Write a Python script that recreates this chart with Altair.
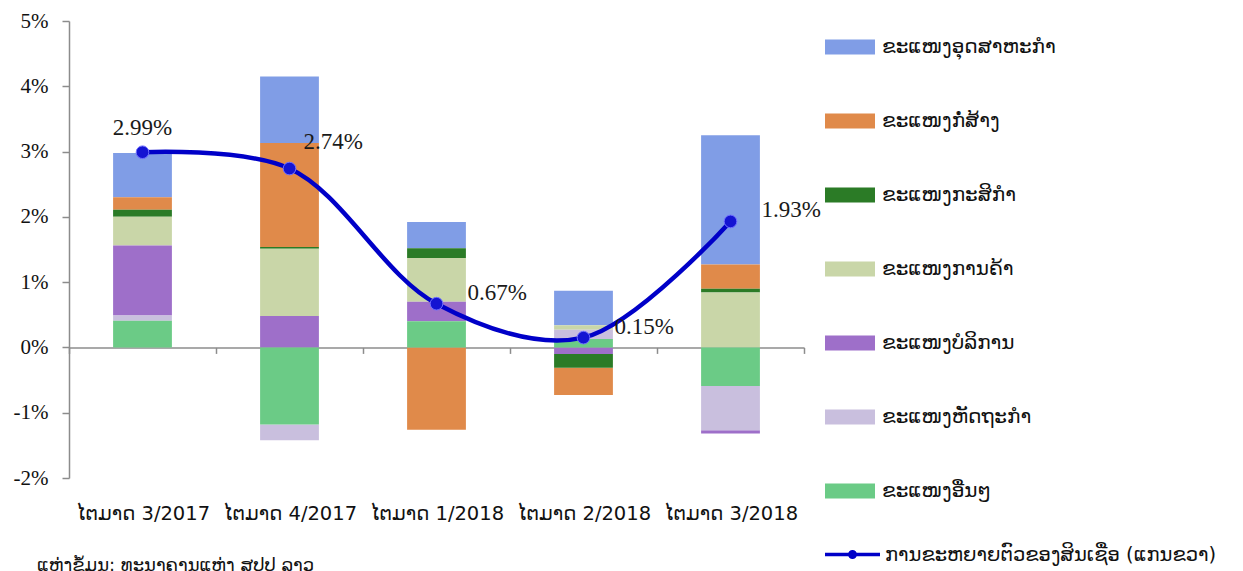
import altair as alt
import pandas as pd

categories = ["ໄຕມາດ 3/2017", "ໄຕມາດ 4/2017", "ໄຕມາດ 1/2018", "ໄຕມາດ 2/2018", "ໄຕມາດ 3/2018"]

series_names = [
    "ຂະແໜງອຸດສາຫະກຳ",
    "ຂະແໜງກໍ່ສ້າງ",
    "ຂະແໜງກະສິກຳ",
    "ຂະແໜງການຄ້າ",
    "ຂະແໜງບໍລິການ",
    "ຂະແໜງຫັດຖະກຳ",
    "ຂະແໜງອື່ນໆ",
]
series_colors = ["#809de6", "#e08a4a", "#2b7b26", "#c9d6a8", "#9e6fc9", "#c9bfde", "#6bcb86"]

industry = [0.68, 1.02, 0.40, 0.53, 1.98]
construction = [0.19, 1.59, -1.26, -0.42, 0.37]
agriculture = [0.11, 0.03, 0.15, -0.21, 0.06]
trade = [0.44, 1.03, 0.67, 0.07, 0.84]
services = [1.07, 0.48, 0.30, -0.10, -0.05]
handicraft = [0.08, -0.24, 0.00, 0.14, -0.68]
others = [0.41, -1.18, 0.40, 0.13, -0.59]

line_name = "ການຂະຫຍາຍຕົວຂອງສິນເຊື່ອ (ແກນຂວາ)"
credit_growth = [2.99, 2.74, 0.67, 0.15, 1.93]

source_text = "ແຫຼ່ງຂໍ້ມູນ: ທະນາຄານແຫ່ງ ສປປ ລາວ"

all_series = [industry, construction, agriculture, trade, services, handicraft, others]
rows = []
for i, (name, vals) in enumerate(zip(series_names, all_series)):
    for c, v in zip(categories, vals):
        rows.append({"quarter": c, "sector": name, "value": v, "ord": len(series_names) - 1 - i})
bar_df = pd.DataFrame(rows)

line_df = pd.DataFrame({"quarter": categories, "growth": credit_growth, "series": [line_name] * len(categories)})

LINE_COLOR = "#0000c8"
AXIS_COLOR = "#8c8c8c"
LAO_FONT = "DejaVu Sans"
NUM_FONT = "Liberation Serif"

x_scale = alt.Scale(domain=categories, paddingInner=0, paddingOuter=0)
y_scale = alt.Scale(domain=[-2, 5], nice=False, zero=False)

x_enc = alt.X(
    "quarter:N",
    sort=categories,
    scale=x_scale,
    axis=alt.Axis(
        title=None,
        orient="bottom",
        offset=-130.6,
        tickBand="extent",
        tickSize=6,
        labelPadding=151,
        labelAngle=0,
        labelFont=LAO_FONT,
        labelFontSize=19.5,
        labelColor="#111111",
        domainColor=AXIS_COLOR,
        tickColor=AXIS_COLOR,
        domainWidth=1.5,
        tickWidth=1.5,
        labelLimit=300,
    ),
)

y_axis = alt.Axis(
    title=None,
    values=[-2, -1, 0, 1, 2, 3, 4, 5],
    labelExpr="datum.value + '%'",
    grid=False,
    tickSize=7,
    labelPadding=14,
    labelFont=NUM_FONT,
    labelFontSize=21,
    labelColor="#111111",
    domainColor=AXIS_COLOR,
    tickColor=AXIS_COLOR,
    domainWidth=1.5,
    tickWidth=1.5,
)

bars = alt.Chart(bar_df).mark_bar(width=alt.RelativeBandSize(0.4)).encode(
    x=x_enc,
    y=alt.Y("value:Q", stack="zero", scale=y_scale, axis=y_axis),
    color=alt.Color(
        "sector:N",
        scale=alt.Scale(domain=series_names, range=series_colors),
        legend=alt.Legend(
            title=None,
            orient="none",
            legendX=756,
            legendY=1,
            symbolType="M-1,-0.3H1V0.3H-1Z",
            symbolSize=2500,
            symbolStrokeWidth=0,
            rowPadding=39,
            labelFont=LAO_FONT,
            labelFontSize=20,
            labelColor="#111111",
            labelOffset=7,
            labelLimit=400,
            padding=0,
        ),
    ),
    order=alt.Order("ord:Q"),
)

line = alt.Chart(line_df).mark_line(interpolate="catmull-rom", strokeWidth=4.5).encode(
    x=x_enc,
    y=alt.Y("growth:Q", scale=y_scale, axis=y_axis),
    stroke=alt.Stroke(
        "series:N",
        scale=alt.Scale(domain=[line_name], range=[LINE_COLOR]),
        legend=alt.Legend(
            title=None,
            orient="none",
            legendX=754,
            legendY=504,
            symbolType="M-1,0H1M0.1,0A0.1,0.1,0,1,1,-0.1,0A0.1,0.1,0,1,1,0.1,0M0.04,0A0.04,0.04,0,1,1,-0.04,0A0.04,0.04,0,1,1,0.04,0",
            symbolSize=3025,
            symbolStrokeWidth=3.5,
            symbolStrokeColor=LINE_COLOR,
            labelFont=LAO_FONT,
            labelFontSize=19.5,
            labelColor="#111111",
            labelOffset=3,
            labelLimit=450,
            padding=0,
        ),
    ),
)

points = alt.Chart(line_df).mark_point(
    filled=True, size=160, color="#1414d2", stroke="#7070ff", strokeWidth=1, opacity=1
).encode(x=x_enc, y=alt.Y("growth:Q", scale=y_scale, axis=y_axis))

label_base = alt.Chart(line_df).transform_calculate(
    label="format(datum.growth, '.2f') + '%'"
)

label_first = label_base.transform_filter(alt.datum.quarter == categories[0]).mark_text(
    font=NUM_FONT, fontSize=23, color="#1a1a1a", align="center", baseline="middle", dy=-24
).encode(x=x_enc, y=alt.Y("growth:Q", scale=y_scale, axis=y_axis), text="label:N")

label_second = label_base.transform_filter(alt.datum.quarter == categories[1]).mark_text(
    font=NUM_FONT, fontSize=23, color="#1a1a1a", align="left", baseline="middle", dx=14, dy=-27
).encode(x=x_enc, y=alt.Y("growth:Q", scale=y_scale, axis=y_axis), text="label:N")

label_rest = label_base.transform_filter(
    alt.FieldOneOfPredicate(field="quarter", oneOf=categories[2:])
).mark_text(
    font=NUM_FONT, fontSize=23, color="#1a1a1a", align="left", baseline="middle", dx=31, dy=-11
).encode(x=x_enc, y=alt.Y("growth:Q", scale=y_scale, axis=y_axis), text="label:N")

chart = alt.layer(bars, line, points, label_first, label_second, label_rest).resolve_scale(
    color="independent", stroke="independent"
).properties(
    width=735,
    height=457,
    background="white",
    autosize=alt.AutoSizeParams(type="none"),
    padding={"left": 61, "top": 13, "right": 431, "bottom": 93},
    title=alt.TitleParams(
        text=source_text,
        orient="bottom",
        anchor="start",
        font=LAO_FONT,
        fontSize=18,
        fontWeight="normal",
        color="#111111",
        dx=24,
        offset=-8,
    ),
).configure_view(stroke=None)

chart.save("out.html", embed_options={"renderer": "svg", "actions": False})
